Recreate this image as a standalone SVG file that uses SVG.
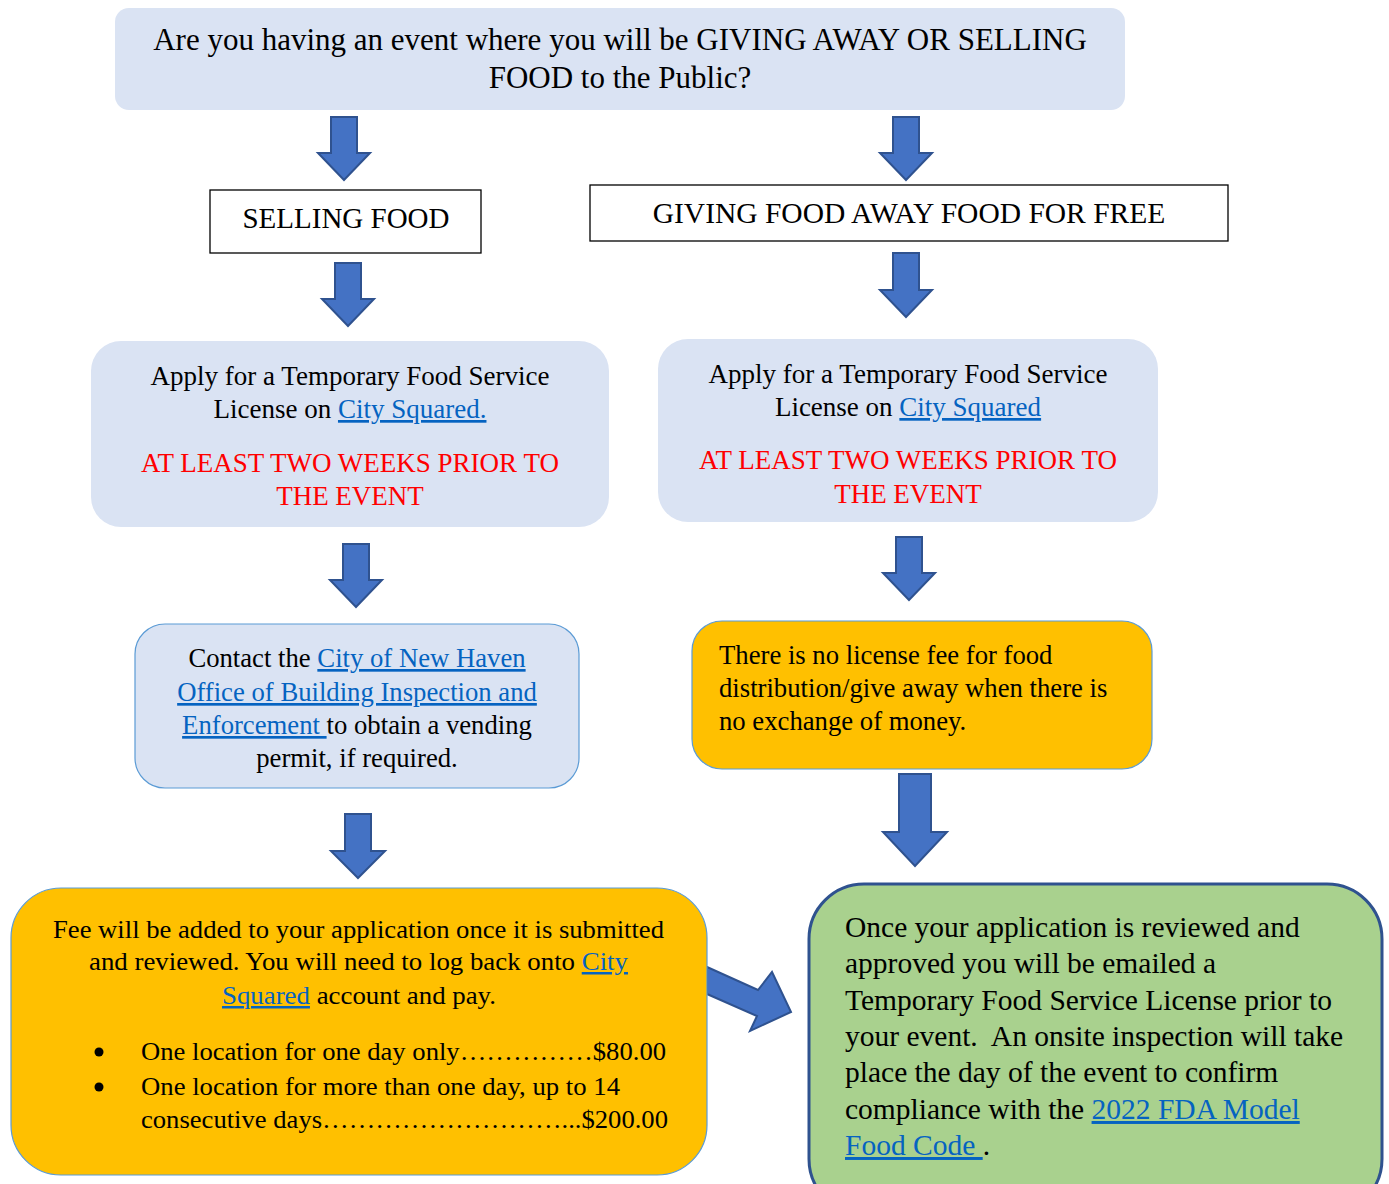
<svg xmlns="http://www.w3.org/2000/svg" width="1389" height="1184" viewBox="0 0 1389 1184">
<style>
text{font-family:"Liberation Serif","Times New Roman",serif;fill:#000}
.c{text-anchor:middle}
.lnk{fill:#0563c1;text-decoration:underline}
.red{fill:#ff0000}
.arr{fill:#4472c4;stroke:#2f528f;stroke-width:2;stroke-linejoin:miter}
.blue{fill:#dae3f3}
.blueb{fill:#dae3f3;stroke:#5b9bd5;stroke-width:1.2}
.gold{fill:#ffc000;stroke:#5b9bd5;stroke-width:1.2}
.plain{fill:#fff;stroke:#000;stroke-width:1.3}
</style>
<rect width="1389" height="1184" fill="#fff"/>
<g id="connectors">
<path class="arr" d="M331,117 H357 V153 H370 L344,180 L318,153 H331 Z"/>
<path class="arr" d="M893,117 H919 V153 H932 L906,180 L880,153 H893 Z"/>
<path class="arr" d="M335,263 H361 V299 H374 L348,326 L322,299 H335 Z"/>
<path class="arr" d="M893,253 H919 V290 H932 L906,317 L880,290 H893 Z"/>
<path class="arr" d="M343,544 H369 V580 H382 L356,607 L330,580 H343 Z"/>
<path class="arr" d="M896,537 H922 V573 H935 L909,600 L883,573 H896 Z"/>
<path class="arr" d="M345,814 H371 V851 H385 L358,878 L331,851 H345 Z"/>
<path class="arr" d="M899,774 H931 V832 H947 L915,866 L883,832 H899 Z"/>
<path class="arr" d="M707,967 L758,990 L772,972 L791,1012 L750,1031 L757,1016 L707,994 Z"/>
</g>
<g id="question">
<rect class="blue" x="115" y="8" width="1010" height="102" rx="14"/>
<text class="c" x="620" y="50" font-size="31">Are you having an event where you will be GIVING AWAY OR SELLING</text>
<text class="c" x="620" y="88" font-size="31">FOOD to the Public?</text>
</g>
<g id="selling">
<rect class="plain" x="210" y="190" width="271" height="63"/>
<text class="c" x="346" y="228" font-size="29">SELLING FOOD</text>
</g>
<g id="giving">
<rect class="plain" x="590" y="185" width="638" height="56"/>
<text class="c" x="909" y="223" font-size="29.5">GIVING FOOD AWAY FOOD FOR FREE</text>
</g>
<g id="apply-left">
<rect class="blue" x="91" y="341" width="518" height="186" rx="30"/>
<text class="c" x="350" y="385" font-size="27">Apply for a Temporary Food Service</text>
<text class="c" x="350" y="418" font-size="27">License on <tspan class="lnk">City Squared.</tspan></text>
<text class="c red" x="350" y="472" font-size="27">AT LEAST TWO WEEKS PRIOR TO</text>
<text class="c red" x="350" y="505" font-size="27">THE EVENT</text>
</g>
<g id="apply-right">
<rect class="blue" x="658" y="339" width="500" height="183" rx="30"/>
<text class="c" x="908" y="383" font-size="27">Apply for a Temporary Food Service</text>
<text class="c" x="908" y="416" font-size="27">License on <tspan class="lnk">City Squared</tspan></text>
<text class="c red" x="908" y="469" font-size="27">AT LEAST TWO WEEKS PRIOR TO</text>
<text class="c red" x="908" y="503" font-size="27">THE EVENT</text>
</g>
<g id="contact">
<rect class="blueb" x="135" y="624" width="444" height="164" rx="30"/>
<text class="c" x="357" y="667" font-size="26.7">Contact the <tspan class="lnk">City of New Haven</tspan></text>
<text class="c" x="357" y="701" font-size="26.7"><tspan class="lnk">Office of Building Inspection and</tspan></text>
<text class="c" x="357" y="734" font-size="26.7"><tspan class="lnk">Enforcement </tspan>to obtain a vending</text>
<text class="c" x="357" y="767" font-size="26.7">permit, if required.</text>
</g>
<g id="nofee">
<rect class="gold" x="692" y="621" width="460" height="148" rx="30"/>
<text x="719" y="664" font-size="26.7">There is no license fee for food</text>
<text x="719" y="697" font-size="26.7">distribution/give away when there is</text>
<text x="719" y="730" font-size="26.7">no exchange of money.</text>
</g>
<g id="fee">
<rect class="gold" x="11" y="888" width="696" height="287" rx="50"/>
<text x="53" y="938" font-size="25" textLength="611" lengthAdjust="spacingAndGlyphs">Fee will be added to your application once it is submitted</text>
<text x="89" y="970" font-size="25" textLength="539" lengthAdjust="spacingAndGlyphs">and reviewed. You will need to log back onto <tspan class="lnk">City</tspan></text>
<text x="222" y="1004" font-size="25" textLength="274" lengthAdjust="spacingAndGlyphs"><tspan class="lnk">Squared</tspan> account and pay.</text>
<circle cx="99" cy="1052" r="4.5" fill="#000"/>
<circle cx="99" cy="1087" r="4.5" fill="#000"/>
<text x="141" y="1060" font-size="25" textLength="525" lengthAdjust="spacingAndGlyphs">One location for one day only……………$80.00</text>
<text x="141" y="1095" font-size="25" textLength="479" lengthAdjust="spacingAndGlyphs">One location for more than one day, up to 14</text>
<text x="141" y="1128" font-size="25" textLength="527" lengthAdjust="spacingAndGlyphs">consecutive days………………………...$200.00</text>
</g>
<g id="approved">
<rect x="809" y="884" width="573" height="330" rx="55" fill="#a9d18e" stroke="#2f528f" stroke-width="3"/>
<text x="845" y="937" font-size="29.5">Once your application is reviewed and</text>
<text x="845" y="973" font-size="29.5">approved you will be emailed a</text>
<text x="845" y="1010" font-size="29.5">Temporary Food Service License prior to</text>
<text x="845" y="1046" font-size="29.5" xml:space="preserve">your event.  An onsite inspection will take</text>
<text x="845" y="1082" font-size="29.5">place the day of the event to confirm</text>
<text x="845" y="1119" font-size="29.5">compliance with the <tspan class="lnk">2022 FDA Model</tspan></text>
<text x="845" y="1155" font-size="29.5"><tspan class="lnk" xml:space="preserve">Food Code </tspan>.</text>
</g>
</svg>
